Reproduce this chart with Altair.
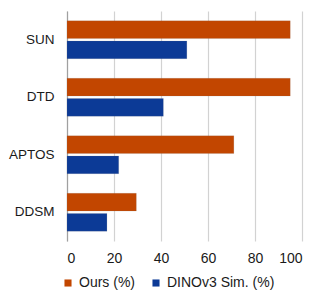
import altair as alt
import pandas as pd

datasets = ["SUN", "DTD", "APTOS", "DDSM"]
ours = [95, 95, 71, 29.5]
dino = [51, 41, 22, 17]
series = ["Ours (%)", "DINOv3 Sim. (%)"]

rows = []
for d, o, s in zip(datasets, ours, dino):
    rows.append({"dataset": d, "series": series[0], "value": o})
    rows.append({"dataset": d, "series": series[1], "value": s})
df = pd.DataFrame(rows)

chart = alt.Chart(df).mark_bar(stroke="#7a7a7a", strokeWidth=0.3, strokeOpacity=0.5).encode(
    x=alt.X("value:Q", scale=alt.Scale(domain=[0, 100], nice=False),
            axis=alt.Axis(values=[0, 20, 40, 60, 80, 100], title=None, grid=True,
                          gridColor="#d2d2d2", gridWidth=1.2, domain=False, ticks=False,
                          labelFontSize=14, labelPadding=10, labelColor="#1a1a1a",
                          labelFont="Liberation Sans")),
    y=alt.Y("dataset:N", sort=datasets,
            scale=alt.Scale(paddingInner=0.34, paddingOuter=0.17),
            axis=alt.Axis(title=None, ticks=False, domain=True, domainColor="#a0a0a0",
                          domainWidth=1.2, labelFontSize=13.5, labelPadding=13,
                          labelColor="#1a1a1a", labelFont="Liberation Sans")),
    yOffset=alt.YOffset("series:N", sort=series, scale=alt.Scale(paddingInner=0.12)),
    color=alt.Color("series:N", sort=series,
                    scale=alt.Scale(domain=series, range=["#c24600", "#0c3a96"]),
                    legend=alt.Legend(title=None, orient="none", direction="horizontal",
                                      legendX=-6, legendY=265, symbolType="square",
                                      symbolSize=50, labelFontSize=14, columnPadding=14,
                                      symbolStrokeWidth=0, labelColor="#1a1a1a",
                                      labelFont="Liberation Sans")),
).properties(
    width=235, height=230,
    autosize=alt.AutoSizeParams(type="none"),
    padding={"left": 59, "top": 3, "right": 10, "bottom": 50},
).configure_view(stroke=None)

chart.save("out.html", embed_options={"renderer": "svg", "actions": False})
